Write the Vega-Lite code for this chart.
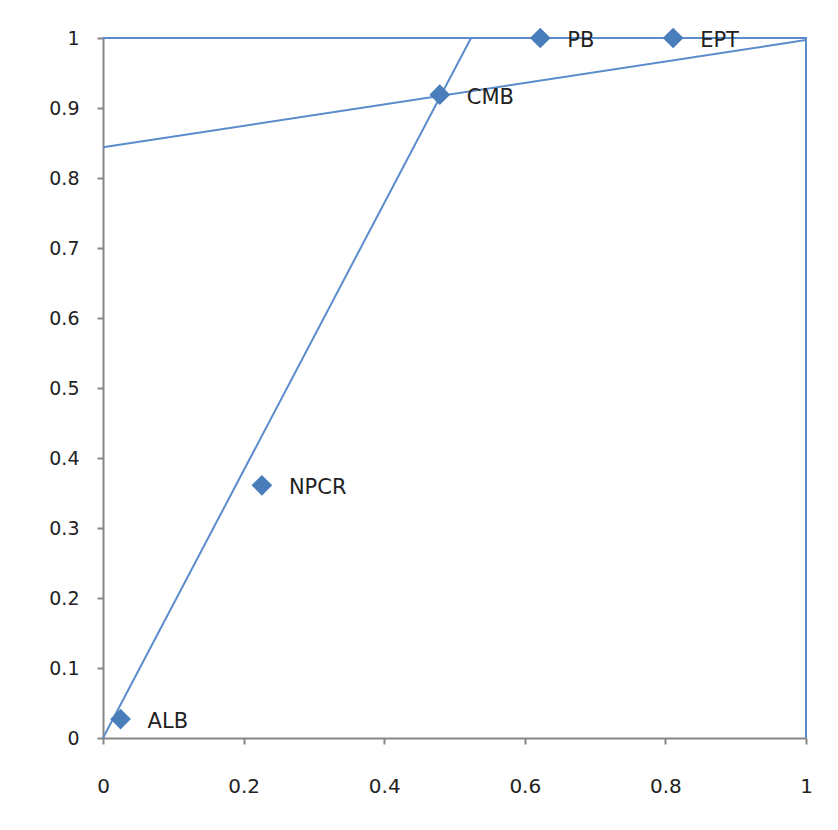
{
  "$schema": "https://vega.github.io/schema/vega-lite/v6.json",
  "autosize": {"type": "none"},
  "padding": {"left": 103, "top": 38, "right": 32, "bottom": 92},
  "width": 703,
  "height": 700,
  "background": "white",
  "config": {
    "view": {"stroke": null},
    "font": "DejaVu Sans",
    "axis": {
      "grid": false,
      "domainColor": "#868686",
      "domainWidth": 2,
      "tickColor": "#868686",
      "tickWidth": 2,
      "tickSize": 6,
      "labelFont": "DejaVu Sans",
      "labelFontSize": 19,
      "labelColor": "#222222",
      "labelFlush": false,
      "labelOverlap": false,
      "title": null
    }
  },
  "datasets": {
    "pts": [
      {"name": "ALB", "x": 0.025, "y": 0.027},
      {"name": "NPCR", "x": 0.226, "y": 0.361},
      {"name": "CMB", "x": 0.479, "y": 0.919},
      {"name": "PB", "x": 0.622, "y": 1.0},
      {"name": "EPT", "x": 0.811, "y": 1.0}
    ],
    "lines": [
      {"series": "a", "ord": 1, "x": 0, "y": 0},
      {"series": "a", "ord": 2, "x": 0.5235, "y": 1},
      {"series": "b", "ord": 1, "x": 0, "y": 0.844},
      {"series": "b", "ord": 2, "x": 1, "y": 0.997},
      {"series": "c", "ord": 1, "x": 0, "y": 1},
      {"series": "c", "ord": 2, "x": 1, "y": 1},
      {"series": "c", "ord": 3, "x": 1, "y": 0}
    ]
  },
  "layer": [
    {
      "data": {"name": "lines"},
      "mark": {"type": "line", "color": "#5B8CCB", "strokeWidth": 2},
      "encoding": {
        "x": {"field": "x", "type": "quantitative", "scale": {"domain": [0, 1], "nice": false},
              "axis": {"values": [0, 0.2, 0.4, 0.6, 0.8, 1], "format": "~g", "labelPadding": 32, "labelFontSize": 20}},
        "y": {"field": "y", "type": "quantitative", "scale": {"domain": [0, 1], "nice": false},
              "axis": {"values": [0, 0.1, 0.2, 0.3, 0.4, 0.5, 0.6, 0.7, 0.8, 0.9, 1], "format": "~g", "labelPadding": 18}},
        "detail": {"field": "series"},
        "order": {"field": "ord", "type": "quantitative"}
      }
    },
    {
      "data": {"name": "pts"},
      "mark": {"type": "point", "shape": "diamond", "filled": true, "color": "#4A7EBB", "opacity": 1, "size": 430},
      "encoding": {
        "x": {"field": "x", "type": "quantitative"},
        "y": {"field": "y", "type": "quantitative"}
      }
    },
    {
      "data": {"name": "pts"},
      "mark": {"type": "text", "align": "left", "baseline": "middle", "dx": 27, "dy": 3, "fontSize": 21, "color": "#222222"},
      "encoding": {
        "x": {"field": "x", "type": "quantitative"},
        "y": {"field": "y", "type": "quantitative"},
        "text": {"field": "name"}
      }
    }
  ]
}
